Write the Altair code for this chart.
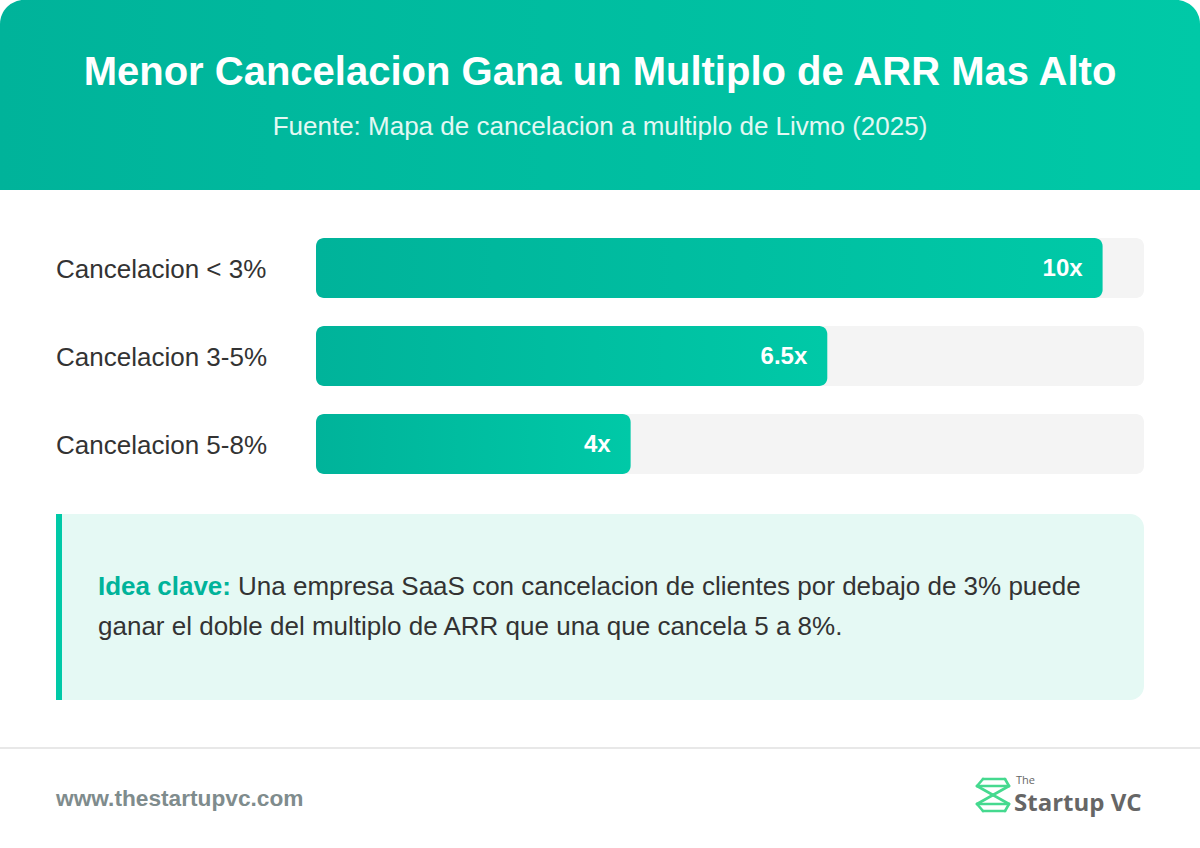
import altair as alt
import pandas as pd

# Churn bands and the ARR multiple each one earns
categories = ["Cancelacion < 3%", "Cancelacion 3-5%", "Cancelacion 5-8%"]
multiples = [10, 6.5, 4]
value_labels = ["10x", "6.5x", "4x"]

title_text = "Menor Cancelacion Gana un Multiplo de ARR Mas Alto"
subtitle_text = "Fuente: Mapa de cancelacion a multiplo de Livmo (2025)"
insight_bold = "Idea clave:"
insight_line1 = "Una empresa SaaS con cancelacion de clientes por debajo de 3% puede"
insight_line2 = "ganar el doble del multiplo de ARR que una que cancela 5 a 8%."
footer_url = "www.thestartupvc.com"

W, H = 1200, 848
FONT = "Liberation Sans"
TEAL_DARK = "#00b39a"
TEAL_LIGHT = "#00c9a7"
SCALE_MAX = max(multiples) / 0.95  # longest bar fills 95% of its track

df = pd.DataFrame({"cat": categories, "mult": multiples, "label": value_labels,
                   "track": [SCALE_MAX] * len(categories)})
one = pd.DataFrame({"k": [0]})

x_scale = alt.Scale(domain=[0, SCALE_MAX], range=[316, 1144], nice=False, zero=True)
y_scale = alt.Scale(domain=categories, range=[238, 474], paddingInner=28 / 88, paddingOuter=0)

def grad(c0, c1):
    return alt.LinearGradient(gradient="linear",
                              stops=[alt.GradientStop(color=c0, offset=0),
                                     alt.GradientStop(color=c1, offset=1)],
                              x1=0, x2=1, y1=0, y2=0)

# Header band
header = alt.Chart(one).mark_rect(color=grad(TEAL_DARK, TEAL_LIGHT), cornerRadiusTopLeft=24,
                                  cornerRadiusTopRight=24).encode(
    x=alt.value(0), x2=alt.value(W), y=alt.value(0), y2=alt.value(190))
title = alt.Chart(one).mark_text(text=title_text, font=FONT, fontSize=40, fontWeight="bold",
                                 color="white", align="center", baseline="middle").encode(
    x=alt.value(W / 2), y=alt.value(73))
subtitle = alt.Chart(one).mark_text(text=subtitle_text, font=FONT, fontSize=26,
                                    color="#e3f8f3", align="center", baseline="middle").encode(
    x=alt.value(W / 2), y=alt.value(127))

base = alt.Chart(df)
y_enc = alt.Y("cat:N", scale=y_scale, axis=None, sort=categories)

tracks = base.mark_bar(color="#f4f4f4", cornerRadius=8).encode(
    x=alt.X("track:Q", scale=x_scale, axis=None), x2=alt.X2(datum=0), y=y_enc)
bars = base.mark_bar(color=grad(TEAL_DARK, TEAL_LIGHT), cornerRadius=8).encode(
    x=alt.X("mult:Q", scale=x_scale, axis=None), x2=alt.X2(datum=0), y=y_enc)
values = base.mark_text(font=FONT, fontSize=24, fontWeight="bold", color="white",
                        align="right", baseline="middle", dx=-20, dy=1).encode(
    x=alt.X("mult:Q", scale=x_scale, axis=None), y=y_enc, text="label:N")
cat_labels = base.mark_text(font=FONT, fontSize=26, color="#333333", align="left",
                            baseline="middle", dy=2).encode(
    x=alt.value(56), y=y_enc, text="cat:N")

# Insight box
box = alt.Chart(one).mark_rect(color="#e5f9f4", cornerRadiusTopRight=14,
                               cornerRadiusBottomRight=14).encode(
    x=alt.value(56), x2=alt.value(1144), y=alt.value(514), y2=alt.value(700))
box_edge = alt.Chart(one).mark_rect(color=TEAL_LIGHT).encode(
    x=alt.value(56), x2=alt.value(62), y=alt.value(514), y2=alt.value(700))
ins_b = alt.Chart(one).mark_text(text=insight_bold, font=FONT, fontSize=26, fontWeight="bold",
                                 color=TEAL_DARK, align="left", baseline="middle").encode(
    x=alt.value(98), y=alt.value(587))
ins_1 = alt.Chart(one).mark_text(text=insight_line1, font=FONT, fontSize=26, color="#333333",
                                 align="left", baseline="middle").encode(
    x=alt.value(238), y=alt.value(587))
ins_2 = alt.Chart(one).mark_text(text=insight_line2, font=FONT, fontSize=26, color="#333333",
                                 align="left", baseline="middle").encode(
    x=alt.value(98), y=alt.value(627))

# Footer
divider = alt.Chart(one).mark_rect(color="#e8e8e8").encode(
    x=alt.value(0), x2=alt.value(W), y=alt.value(747), y2=alt.value(749))
url = alt.Chart(one).mark_text(text=footer_url, font=FONT, fontSize=22.7, fontWeight="bold",
                               color="#7f8c8d", align="left", baseline="middle").encode(
    x=alt.value(56), y=alt.value(799))
logo_the = alt.Chart(one).mark_text(text="The", font="Open Sans", fontSize=11, color="#666666",
                                    align="left", baseline="alphabetic").encode(
    x=alt.value(1016), y=alt.value(784))
logo_name = alt.Chart(one).mark_text(text="Startup VC", font="Open Sans", fontSize=24,
                                     fontWeight="bold", color="#666666", align="left",
                                     baseline="alphabetic").encode(
    x=alt.value(1014), y=alt.value(811))

# Logo mark: outline of two stacked chevrons
segments = [
    (983, 779, 1005, 779), (1005, 779, 1009, 786), (1009, 786, 993, 795),
    (993, 795, 1009, 804), (1009, 804, 1005, 811), (1005, 811, 983, 811),
    (983, 811, 977, 804), (977, 804, 993, 795), (993, 795, 977, 786),
    (977, 786, 983, 779), (977, 786, 1009, 786), (977, 804, 1009, 804),
]
logo_lines = [
    alt.Chart(one).mark_rule(color="#45d98f", strokeWidth=2.6, strokeCap="round").encode(
        x=alt.value(a), y=alt.value(b), x2=alt.value(c), y2=alt.value(d))
    for a, b, c, d in segments
]

chart = alt.layer(
    header, title, subtitle, tracks, bars, values, cat_labels,
    box, box_edge, ins_b, ins_1, ins_2, divider, url, logo_the, logo_name, *logo_lines
).resolve_scale(x="shared", y="shared").properties(
    width=W, height=H, autosize=alt.AutoSizeParams(type="none"), padding=0,
    background="white"
).configure_view(strokeWidth=0)

chart.save("out.html", embed_options={"renderer": "svg", "actions": False})
